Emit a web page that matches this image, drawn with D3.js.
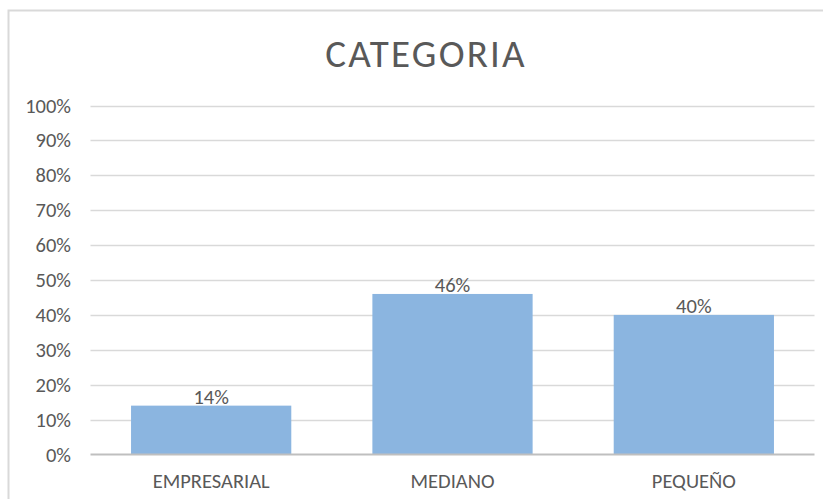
<!DOCTYPE html>
<html>
<head>
<meta charset="utf-8">
<script src="https://cdn.jsdelivr.net/npm/d3@7"></script>
<style>
  body { margin: 0; background: #fff; }
  text { font-family: Calibri, Carlito, "Open Sans", sans-serif; fill: #595959; }
</style>
</head>
<body>
<svg id="chart" width="823" height="499"></svg>
<script>
// data
var categories = ["EMPRESARIAL", "MEDIANO", "PEQUEÑO"];
var values = [0.14, 0.46, 0.40];
var yTicks = [0, 0.1, 0.2, 0.3, 0.4, 0.5, 0.6, 0.7, 0.8, 0.9, 1.0];

var svg = d3.select("#chart");

// outer chart frame (only top/left visible in the crop)
svg.append("rect")
    .attr("x", 8.5).attr("y", 10.5)
    .attr("width", 830).attr("height", 500)
    .attr("fill", "#fff")
    .attr("stroke", "#d9d9d9")
    .attr("stroke-width", 2);

var plotLeft = 90.5, plotRight = 814.5, plotTop = 105.5, plotBottom = 454.5;
var labelSize = "20.5px";

var x = d3.scaleBand()
    .domain(categories)
    .range([plotLeft, plotRight])
    .paddingInner(0.336)
    .paddingOuter(0.168);

var y = d3.scaleLinear()
    .domain([0, 1])
    .range([plotBottom, plotTop]);

// gridlines
svg.append("g")
    .selectAll("line")
    .data(yTicks.slice(1))
    .enter()
    .append("line")
    .attr("x1", plotLeft).attr("x2", plotRight)
    .attr("y1", function (d) { return Math.round(y(d)) + 0.5; })
    .attr("y2", function (d) { return Math.round(y(d)) + 0.5; })
    .attr("stroke", "#d9d9d9")
    .attr("stroke-width", 1.5);

// y axis labels
var yAxis = d3.axisLeft(y)
    .tickValues(yTicks)
    .tickFormat(d3.format(".0%"))
    .tickSize(0)
    .tickPadding(0);

var yg = svg.append("g")
    .attr("transform", "translate(71,0)")
    .call(yAxis);
yg.select(".domain").remove();
yg.selectAll("text")
    .attr("font-size", labelSize)
    .attr("fill", "#595959")
    .style("font-family", "Calibri, Carlito, 'Open Sans', sans-serif");

// bars
svg.append("g")
    .selectAll("rect")
    .data(values)
    .enter()
    .append("rect")
    .attr("x", function (d, i) { return x(categories[i]); })
    .attr("y", function (d) { return y(d); })
    .attr("width", x.bandwidth())
    .attr("height", function (d) { return y(0) - y(d); })
    .attr("fill", "#8bb5e0");

// value labels
svg.append("g")
    .selectAll("text")
    .data(values)
    .enter()
    .append("text")
    .attr("x", function (d, i) { return x(categories[i]) + x.bandwidth() / 2; })
    .attr("y", function (d) { return y(d) - 2; })
    .attr("text-anchor", "middle")
    .attr("font-size", labelSize)
    .text(function (d) { return d3.format(".0%")(d); });

// baseline
svg.append("line")
    .attr("x1", plotLeft).attr("x2", plotRight)
    .attr("y1", plotBottom).attr("y2", plotBottom)
    .attr("stroke", "#bfbfbf")
    .attr("stroke-width", 2);

// x axis labels
var xAxis = d3.axisBottom(x).tickSize(0).tickPadding(0);
var xg = svg.append("g")
    .attr("transform", "translate(0,488)")
    .call(xAxis);
xg.select(".domain").remove();
xg.selectAll("text")
    .attr("dy", 0)
    .attr("font-size", labelSize)
    .attr("fill", "#595959")
    .style("font-family", "Calibri, Carlito, 'Open Sans', sans-serif");

// title
svg.append("text")
    .attr("x", 426)
    .attr("y", 67)
    .attr("text-anchor", "middle")
    .attr("font-size", "39px")
    .attr("font-weight", 300)
    .attr("letter-spacing", "2.2px")
    .text("CATEGORIA");
</script>
</body>
</html>
